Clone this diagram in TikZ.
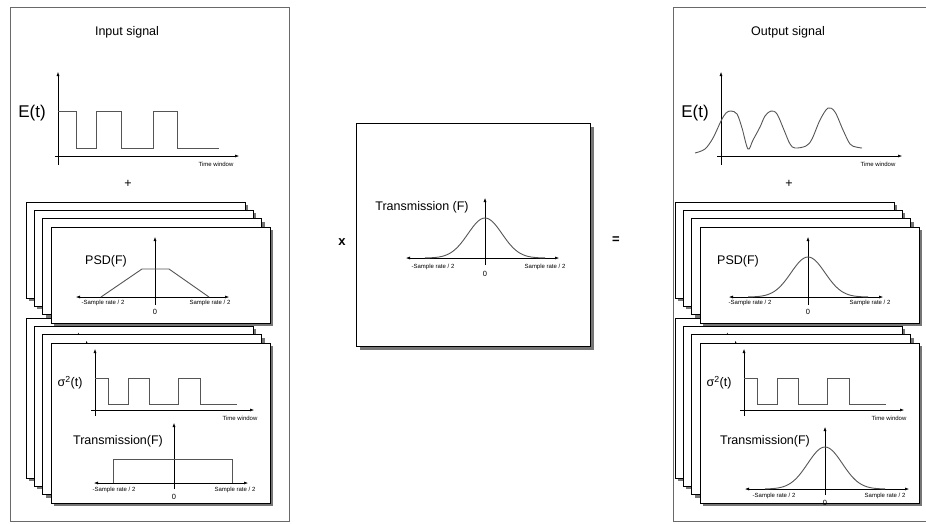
\documentclass[tikz,border=0pt]{standalone}
\usepackage{fontspec}
\setmainfont{Liberation Sans}
\usetikzlibrary{arrows.meta}
\definecolor{frame}{RGB}{105,105,105}
\definecolor{shade}{RGB}{118,118,118}
\definecolor{trace}{RGB}{85,85,85}

\begin{document}
\begin{tikzpicture}[x=1pt,y=-1pt,
          panel/.style={draw=frame,line width=0.8pt},
          sheet/.style={draw=black,fill=white,line width=0.5pt},
          drop/.style={fill=shade},
          axis/.style={draw=black,line width=0.5pt,-{Latex[length=4pt,width=3pt]}},
          axes/.style={draw=black,line width=0.5pt,{Latex[length=4pt,width=3pt]}-{Latex[length=4pt,width=3pt]}},
          trace/.style={draw=trace,line width=0.9pt},
          lbl/.style={inner sep=0pt,font=\fontsize{12.5}{14}\selectfont},
          big/.style={inner sep=0pt,font=\fontsize{17}{19}\selectfont},
          tiny/.style={inner sep=0pt,font=\fontsize{6}{7}\selectfont},
          zero/.style={inner sep=0pt,font=\fontsize{7.5}{8}\selectfont},
          op/.style={inner sep=0pt,font=\fontsize{13}{14}\selectfont\bfseries}]
        \clip (0,0) rectangle (926,523);

        % input side
        \draw[panel] (10,7) rectangle (289,521);
        \node[lbl] (intitle) at (127,32) {Input signal};
        \coordinate (ey0) at (58,165);
        \coordinate (ey1) at (58,72);
        \coordinate (ex0) at (55,156);
        \coordinate (ex1) at (239,156);
        \draw[axis] (ey0) -- (ey1);
        \draw[axis] (ex0) -- (ex1);
        \draw[trace] (58,111) -| (76,148) -| (96,111) -| (121,148) -| (153,111) -| (177,148) -- (219,148);
        \node[big] (elab) at (32,113) {E(t)};
        \node[tiny] (etime) at (216,164) {Time window};
        \node[lbl] (inplus) at (128,184) {+};

        \foreach \i in {0,1,2} {
          \fill[drop] ({29+8.33*\i},{321+8.33*\i}) rectangle ++(219,160);
          \filldraw[sheet] ({26+8.33*\i},{318+8.33*\i}) rectangle ++(219,160);
          \draw[axis] ({70+8.33*\i},{391+8.33*\i}) -- ++(0,-67);
        }
        \fill[drop] (54,346) rectangle (273,506);
        \filldraw[sheet] (51,343) rectangle (270,503);
        \coordinate (sy0) at (95,416);
        \coordinate (sy1) at (95,349);
        \coordinate (sx0) at (91,410);
        \coordinate (sx1) at (254,410);
        \draw[axis] (sy0) -- (sy1);
        \draw[axis] (sx0) -- (sx1);
        \draw[trace] (95,378) -| (108,404) -| (128,378) -| (149,404) -| (178,378) -| (200,404) -- (237,404);
        \node[lbl] (slab) at (70,383) {σ\textsuperscript{2}(t)};
        \node[tiny] (stime) at (240,418) {Time window};
        \coordinate (ty0) at (174,489);
        \coordinate (ty1) at (174,423);
        \coordinate (tx0) at (94,483);
        \coordinate (tx1) at (248,483);
        \draw[axes] (tx0) -- (tx1);
        \draw[axis] (ty0) -- (ty1);
        \draw[trace] (113,483) |- (232,459) -- (232,483);
        \node[lbl] (tlab) at (118,441) {Transmission(F)};
        \node[tiny] (tneg) at (114,490) {-Sample rate / 2};
        \node[tiny] (tpos) at (235,490) {Sample rate / 2};
        \node[zero] (tzero) at (174,497) {0};

        \foreach \i in {0,...,3} {
          \fill[drop] ({29+8.33*\i},{205+8.33*\i}) rectangle ++(219,96);
          \filldraw[sheet] ({26+8.33*\i},{202+8.33*\i}) rectangle ++(219,96);
        }
        \coordinate (py0) at (155,305);
        \coordinate (py1) at (155,237);
        \coordinate (px0) at (76,297);
        \coordinate (px1) at (229,297);
        \draw[axes] (px0) -- (px1);
        \draw[axis] (py0) -- (py1);
        \draw[trace] (101,297) -- (142,269) -- (169,269) -- (209,297);
        \node[lbl] (plab) at (106,261) {PSD(F)};
        \node[tiny] (pneg) at (103,303) {-Sample rate / 2};
        \node[tiny] (ppos) at (210,303) {Sample rate / 2};
        \node[zero] (pzero) at (155,312) {0};

        % channel
        \node[op] (times) at (342,242) {x};
        \fill[drop] (360,127) rectangle (594,350);
        \filldraw[sheet] (356,123) rectangle (590,346);
        \coordinate (cy0) at (485,265);
        \coordinate (cy1) at (485,198);
        \coordinate (cx0) at (406,258);
        \coordinate (cx1) at (559,258);
        \draw[axes] (cx0) -- (cx1);
        \draw[axis] (cy0) -- (cy1);
        \draw[trace] plot[domain=-60:60,samples=61,smooth] ({485+\x},{258-40*exp(-(\x*\x)/578)});
        \node[lbl] (clab) at (422,207) {Transmission (F)};
        \node[tiny] (cneg) at (433,267) {-Sample rate / 2};
        \node[tiny] (cpos) at (545,267) {Sample rate / 2};
        \node[zero] (czero) at (485,274) {0};
        \node[op] (equals) at (616,240) {=};

        % output side
        \draw[panel] (673,7) rectangle (952,521);
        \node[lbl] (outtitle) at (788,32) {Output signal};
        \coordinate (oy0) at (721,165);
        \coordinate (oy1) at (721,72);
        \coordinate (ox0) at (717,156);
        \coordinate (ox1) at (902,156);
        \draw[axis] (oy0) -- (oy1);
        \draw[axis] (ox0) -- (ox1);
        \draw[trace] plot[smooth,tension=0.55] coordinates {(695,153) (705,149) (713,138) (721,121)
          (726,113) (731,111) (737,114) (742,128) (748,149) (753,140) (760,127) (765,116) (771,111)
          (777,114) (784,130) (790,144) (795,148) (806,146) (812,139) (820,120) (828,108) (835,112)
          (843,130) (850,144) (856,147) (862,148)};
        \node[big] (olab) at (695,113) {E(t)};
        \node[tiny] (otime) at (878,164) {Time window};
        \node[lbl] (outplus) at (789,184) {+};

        \foreach \i in {0,1,2} {
          \fill[drop] ({678+8.33*\i},{321+8.33*\i}) rectangle ++(219,160);
          \filldraw[sheet] ({675+8.33*\i},{318+8.33*\i}) rectangle ++(219,160);
          \draw[axis] ({719+8.33*\i},{391+8.33*\i}) -- ++(0,-67);
        }
        \fill[drop] (703,346) rectangle (922,506);
        \filldraw[sheet] (700,343) rectangle (919,503);
        \coordinate (qy0) at (744,416);
        \coordinate (qy1) at (744,349);
        \coordinate (qx0) at (740,410);
        \coordinate (qx1) at (904,410);
        \draw[axis] (qy0) -- (qy1);
        \draw[axis] (qx0) -- (qx1);
        \draw[trace] (744,378) -| (757,404) -| (777,378) -| (798,404) -| (827,378) -| (849,404) -- (886,404);
        \node[lbl] (qlab) at (719,383) {σ\textsuperscript{2}(t)};
        \node[tiny] (qtime) at (889,418) {Time window};
        \coordinate (ry0) at (825,495);
        \coordinate (ry1) at (825,427);
        \coordinate (rx0) at (745,489);
        \coordinate (rx1) at (909,489);
        \draw[axes] (rx0) -- (rx1);
        \draw[axis] (ry0) -- (ry1);
        \draw[trace] plot[domain=-60:60,samples=61,smooth] ({825+\x},{489-42*exp(-(\x*\x)/600)});
        \node[lbl] (rlab) at (765,441) {Transmission(F)};
        \node[tiny] (rneg) at (774,496) {-Sample rate / 2};
        \node[tiny] (rpos) at (885,496) {Sample rate / 2};
        \node[zero] (rzero) at (825,503) {0};

        \foreach \i in {0,...,3} {
          \fill[drop] ({678+8.33*\i},{205+8.33*\i}) rectangle ++(219,96);
          \filldraw[sheet] ({675+8.33*\i},{202+8.33*\i}) rectangle ++(219,96);
        }
        \coordinate (uy0) at (808,305);
        \coordinate (uy1) at (808,237);
        \coordinate (ux0) at (729,297);
        \coordinate (ux1) at (883,297);
        \draw[axes] (ux0) -- (ux1);
        \draw[axis] (uy0) -- (uy1);
        \draw[trace] plot[domain=-60:60,samples=61,smooth] ({808+\x},{297-40*exp(-(\x*\x)/578)});
        \node[lbl] (ulab) at (738,261) {PSD(F)};
        \node[tiny] (uneg) at (750,303) {-Sample rate / 2};
        \node[tiny] (upos) at (870,303) {Sample rate / 2};
        \node[zero] (uzero) at (808,312) {0};
      \end{tikzpicture}
\end{document}
